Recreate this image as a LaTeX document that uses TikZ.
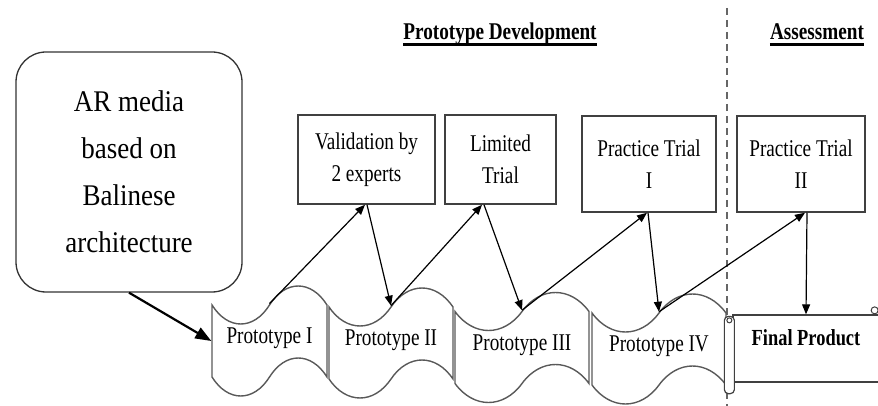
\documentclass[tikz,border=0pt]{standalone}
\usepackage{fontspec}
\setmainfont{Liberation Serif}[FakeStretch=0.8]
\newfontfamily\calloutfont{Liberation Serif}[FakeStretch=0.9]
\usepackage{tikz}
\usetikzlibrary{shapes.symbols}
\usetikzlibrary{arrows.meta}

\tikzset{
  stage/.style={draw=black!65,line width=1.4pt,tape,tape bend height=38pt,
    minimum height=110pt,inner sep=0pt,text depth=10pt,
    font=\fontsize{24}{28}\selectfont},
  taskbox/.style={draw=black!75,line width=1.5pt,rectangle,align=center,
    inner sep=0pt,font=\fontsize{24}{32}\selectfont},
  heading/.style={inner sep=0pt,anchor=base,font=\bfseries\fontsize{24}{28}\selectfont},
  flow/.style={-{Triangle[length=10pt,width=8pt]},line width=1.2pt},
}

\begin{document}
\begin{tikzpicture}[x=1pt,y=-1pt]
\useasboundingbox (0,0) rectangle (878,406);
%%% phase separator
\draw[black!60,line width=1.2pt,dash pattern=on 7pt off 5pt] (727,8) -- (727,406);
\draw 
(500,39.5) node[heading](dev){Prototype Development}
(817,39.5) node[heading](ass){Assessment}
(129,172) node[draw=black!80,line width=1.3pt,rounded corners=30pt,minimum width=226pt,
  minimum height=240pt,align=center,font=\calloutfont\fontsize{30}{47}\selectfont](media)
  {AR media\\based on\\Balinese\\architecture}
(366.5,159.5) node[taskbox,minimum width=137pt,minimum height=89pt](val){Validation by\\2 experts}
(500.5,159.5) node[taskbox,minimum width=111pt,minimum height=89pt](lim){Limited\\Trial}
(649,164) node[taskbox,minimum width=134pt,minimum height=96pt](pt1){Practice Trial\\I}
(801,164) node[taskbox,minimum width=128pt,minimum height=96pt](pt2){Practice Trial\\II}
(269.5,341) node[stage,minimum width=115pt](p1){Prototype I}
(391,343) node[stage,minimum width=124pt](p2){Prototype II}
(522,347.5) node[stage,minimum width=134pt](p3){Prototype III}
(659,349) node[stage,minimum width=134pt](p4){Prototype IV}
(806,348.5) node[draw=black!75,line width=1.3pt,minimum width=146pt,minimum height=67pt,
  text height=12pt,text depth=19pt,font=\bfseries\fontsize{23}{28}\selectfont](final){Final Product}
;
%%% heading underlines
\foreach \h in {dev,ass}{
\draw[line width=2.4pt]([yshift=-5pt]\h.base west) -- ([yshift=-5pt]\h.base east);
}
%%% rolled ends of the scroll
\draw[black!75,line width=1.2pt,fill=white,rounded corners=4pt]
  ([xshift=-8pt,yshift=-2pt]final.north west) rectangle ([xshift=2pt,yshift=-11pt]final.south west);
\draw[black!75,line width=1pt]([xshift=-3pt,yshift=-6pt]final.north west) circle (2.5pt);
\draw[black!75,line width=1pt]([xshift=-5pt,yshift=4pt]final.north east) circle (3.5pt);
%%% starting idea
\draw[-{Triangle[length=16pt,width=12pt]},line width=2.2pt](media.south) -- (p1.west);
%%% Prototype up to its trial
\foreach \a/\b/\s in {p1/val/-1.5, p2/lim/-18.5, p3/pt1/-2, p4/pt2/4}{
\draw[flow](\a.north) -- ([xshift=\s pt]\b.south);
}
%%% Trial down to the next prototype
\foreach \a/\b/\s in {val/p2/0.5, lim/p3/-16.5, pt1/p4/-1, pt2/final/6}{
\draw[flow]([xshift=\s pt]\a.south) -- (\b.north);
}
\end{tikzpicture}
\end{document}
